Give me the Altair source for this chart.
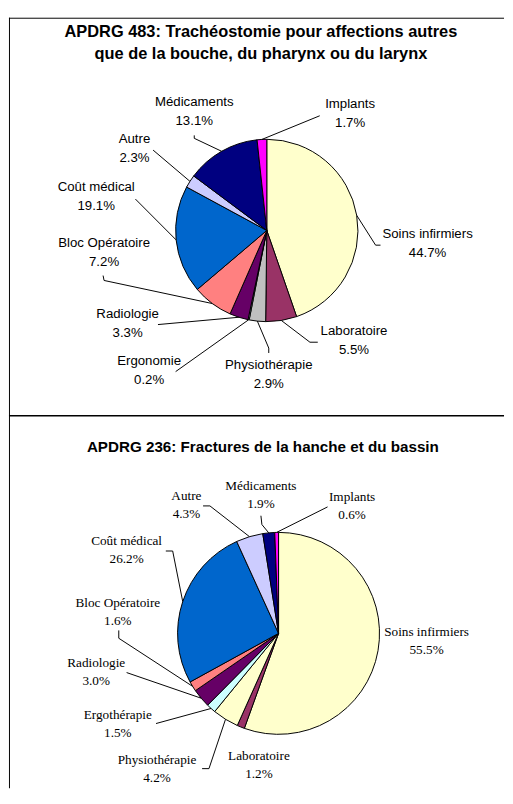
import altair as alt
import pandas as pd

# ---------------- data ----------------
cats1 = ["Soins infirmiers", "Laboratoire", "Physiothérapie", "Ergonomie", "Radiologie",
         "Bloc Opératoire", "Coût médical", "Autre", "Médicaments", "Implants"]
vals1 = [44.7, 5.5, 2.9, 0.2, 3.3, 7.2, 19.1, 2.3, 13.1, 1.7]
title1 = ["APDRG 483: Trachéostomie pour affections autres",
          "que de la bouche, du pharynx ou du larynx"]

cats2 = ["Soins infirmiers", "Laboratoire", "Physiothérapie", "Ergothérapie", "Radiologie",
         "Bloc Opératoire", "Coût médical", "Autre", "Médicaments", "Implants"]
vals2 = [55.5, 1.2, 4.2, 1.5, 3.0, 1.6, 26.2, 4.3, 1.9, 0.6]
title2 = "APDRG 236: Fractures de la hanche et du bassin"

# ---------------- styles / layout ----------------
cols1 = ["#FFFFCC", "#993366", "#C0C0C0", "#CCFFFF", "#660066",
         "#FF8080", "#0066CC", "#CCCCFF", "#000080", "#FF00FF"]
cols2 = ["#FFFFCC", "#993366", "#FFFFCC", "#CCFFFF", "#660066",
         "#FF8080", "#0066CC", "#CCCCFF", "#000080", "#FF00FF"]

W, H = 505, 788

# pie 1 geometry and label layout (offsets from pie centre)
cx1, cy1, r1 = 263, 219, 93
lbl1 = [(164, 4), (89, 103), (2, 137), (-120, 133), (-142, 85),
        (-166, 13), (-174, -44), (-135, -93), (-74, -131), (85, -129)]
elbow1 = [(111, 15), (44, 114), (2, 120), (-93, 144), (-111, 96),
          (-166, 51), (-134, -32), (-116, -82), (-74, -94), (54, -117)]
end1 = [(116, 15), (52, 114), (2, 125), (-93, 144), (-111, 96),
        (-167, 46), (-134, -32), (-116, -82), (-74, -97), (54, -117)]

# pie 2 geometry and label layout
cx2, cy2, r2 = 275, 630, 103
lbl2 = [(151, -1), (-20, 125), (-124, 129), (-164, 83), (-186, 30),
        (-164, -31), (-155, -94), (-94, -140), (-18, -150), (75, -139)]
elbow2 = [None, None, (-71, 138), (-125, 92), (-155, 40),
          (-163, 5), (-108, -84), (-70, -130), (-17, -111), (50, -129)]
end2 = [None, None, (-78, 138), (-125, 92), (-155, 40),
        (-163, -3), (-115, -84), (-77, -130), (-18, -120), (50, -129)]


def pie_layers(cats, vals, cols, cx, cy, r, lbl, elbow, end, font, size, gap):
    df = pd.DataFrame({
        "cat": cats,
        "val": vals,
        "col": cols,
        "idx": list(range(len(cats))),
        "lx": [cx + d[0] for d in lbl],
        "ly": [cy + d[1] for d in lbl],
        "bx": [cx + e[0] if e else None for e in elbow],
        "by": [cy + e[1] if e else None for e in elbow],
        "tx": [cx + e[0] if e else None for e in end],
        "ty": [cy + e[1] if e else None for e in end],
    })
    base = alt.Chart(df)
    arc = base.mark_arc(radius=r, stroke="black", strokeWidth=1).encode(
        theta=alt.Theta("val:Q", stack=True),
        color=alt.Color("col:N", scale=None),
        order=alt.Order("idx:Q"),
        x=alt.value(cx),
        y=alt.value(cy),
    )
    edges = base.transform_window(
        cum="sum(val)", sort=[alt.SortField("idx")], frame=[None, 0]
    ).transform_joinaggregate(
        tot="sum(val)"
    ).transform_calculate(
        a="2*PI*(datum.cum - datum.val/2)/datum.tot"
    ).transform_calculate(
        ex=f"{cx} + {r}*sin(datum.a)",
        ey=f"{cy} - {r}*cos(datum.a)",
    ).transform_filter("isValid(datum.bx)")
    lead1 = edges.mark_rule(color="black", strokeWidth=1).encode(
        x=alt.X("ex:Q", scale=None, axis=None),
        y=alt.Y("ey:Q", scale=None, axis=None),
        x2="bx:Q", y2="by:Q",
    )
    lead2 = edges.mark_rule(color="black", strokeWidth=1).encode(
        x=alt.X("bx:Q", scale=None, axis=None),
        y=alt.Y("by:Q", scale=None, axis=None),
        x2="tx:Q", y2="ty:Q",
    )
    names = base.mark_text(font=font, fontSize=size, color="black",
                           align="center", baseline="middle").encode(
        x=alt.X("lx:Q", scale=None, axis=None),
        y=alt.Y("ly:Q", scale=None, axis=None),
        text="cat:N",
    )
    pcts = base.transform_calculate(
        pct="format(datum.val, '.1f') + '%'",
        py=f"datum.ly + {gap}",
    ).mark_text(font=font, fontSize=size, color="black",
                align="center", baseline="middle").encode(
        x=alt.X("lx:Q", scale=None, axis=None),
        y=alt.Y("py:Q", scale=None, axis=None),
        text="pct:N",
    )
    return [arc, lead1, lead2, names, pcts]


one = alt.Chart(pd.DataFrame({"k": [0]}))

# panel borders
borders = [
    one.mark_rule(color="black", strokeWidth=1).encode(
        x=alt.value(0), x2=alt.value(W), y=alt.value(2.5)),
    one.mark_rule(color="black", strokeWidth=1).encode(
        x=alt.value(0.5), y=alt.value(2), y2=alt.value(H)),
    one.mark_rule(color="black", strokeWidth=1.5).encode(
        x=alt.value(0), x2=alt.value(W), y=alt.value(408)),
]

titles = [
    one.mark_text(font="Liberation Sans", fontSize=16.7, fontWeight="bold",
                  align="center", baseline="middle", color="black").encode(
        x=alt.value(257), y=alt.value(17), text=alt.value(title1[0])),
    one.mark_text(font="Liberation Sans", fontSize=16.7, fontWeight="bold",
                  align="center", baseline="middle", color="black").encode(
        x=alt.value(257), y=alt.value(39), text=alt.value(title1[1])),
    one.mark_text(font="Liberation Sans", fontSize=15.5, fontWeight="bold",
                  align="center", baseline="middle", color="black").encode(
        x=alt.value(259), y=alt.value(440), text=alt.value(title2)),
]

layers = (borders + titles
          + pie_layers(cats1, vals1, cols1, cx1, cy1, r1, lbl1, elbow1, end1,
                       "Liberation Sans", 13.5, 19.5)
          + pie_layers(cats2, vals2, cols2, cx2, cy2, r2, lbl2, elbow2, end2,
                       "Liberation Serif", 13.5, 18.5))

chart = alt.layer(*layers).resolve_scale(theta="independent").properties(
    width=W, height=H, padding=0, background="white"
).configure_view(stroke=None)

chart.save("out.html", embed_options={"renderer": "svg", "actions": False})
